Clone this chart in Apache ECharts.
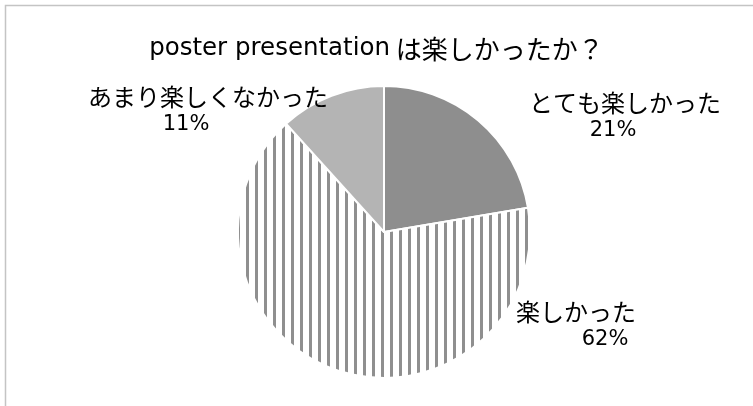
<!DOCTYPE html>
<html>
<head>
<meta charset="utf-8">
<script src="https://cdn.jsdelivr.net/npm/echarts@6/dist/echarts.min.js"></script>
<style>
  html, body { margin: 0; padding: 0; background: #fff; }
  #chart { width: 753px; height: 406px; }
</style>
</head>
<body>
<div id="chart"></div>
<script>
// Survey answers (percent)
const categories = ['とても楽しかった', '楽しかった', 'あまり楽しくなかった'];
const percents = [21, 62, 11];

const titleLatin = 'poster presentation';
const titleJa = ' は楽しかったか？';

// Vertical stripe fill for the middle slice
function stripePattern() {
  const c = document.createElement('canvas');
  c.width = 9; c.height = 9;
  const g = c.getContext('2d');
  g.fillStyle = '#ffffff';
  g.fillRect(0, 0, 9, 9);
  g.fillStyle = '#8f8f8f';
  g.fillRect(3, 0, 3, 9);
  return c;
}

const fills = ['#8e8e8e', { image: stripePattern(), repeat: 'repeat' }, '#b4b4b4'];
// Label anchor points (centre of the first line, pixels) for each answer
const labelSpots = [[625, 103], [576, 312], [208, 97]];
// Horizontal nudge of the percentage line relative to the name line
const pctShift = [-12, 29, -22];

const chart = echarts.init(document.getElementById('chart'), null, { renderer: 'canvas' });
chart.setOption({
  animation: false,
  backgroundColor: '#ffffff',
  title: {
    text: '{a|' + titleLatin + '}{b|' + titleJa + '}',
    left: 'center',
    top: 29,
    textStyle: {
      fontWeight: 'normal',
      rich: {
        a: { fontFamily: 'DejaVu Sans', fontSize: 24.5, fontWeight: 'normal', color: '#000', lineHeight: 30 },
        b: { fontFamily: 'Noto Sans CJK JP', fontSize: 26, fontWeight: 'normal', color: '#000', lineHeight: 30 }
      }
    }
  },
  graphic: [{
    type: 'rect',
    shape: { x: 5.5, y: 5.5, width: 900, height: 600 },
    style: { fill: 'none', stroke: '#c4c4c4', lineWidth: 1.5 },
    silent: true
  }],
  series: [{
    type: 'pie',
    center: [384, 232],
    radius: [0, 146],
    startAngle: 90,
    clockwise: true,
    avoidLabelOverlap: false,
    data: categories.map((name, i) => ({
      name,
      value: percents[i],
      itemStyle: { color: fills[i] },
      label: {
        rich: {
          p: {
            fontFamily: 'DejaVu Sans', fontSize: 21, lineHeight: 28, color: '#000', align: 'center',
            padding: pctShift[i] > 0 ? [0, 0, 0, 2 * pctShift[i]] : [0, -2 * pctShift[i], 0, 0]
          }
        }
      }
    })),
    itemStyle: { borderColor: '#ffffff', borderWidth: 2 },
    label: {
      show: true,
      position: 'outside',
      formatter: '{n|{b}}\n{p|{c}%}',
      align: 'center',
      rich: {
        n: { fontFamily: 'Noto Sans CJK JP', fontSize: 24, lineHeight: 28, color: '#000', align: 'center' },
        p: { fontFamily: 'DejaVu Sans', fontSize: 21, lineHeight: 28, color: '#000', align: 'center' }
      }
    },
    labelLine: { show: false },
    labelLayout: (params) => ({
      x: labelSpots[params.dataIndex][0],
      y: labelSpots[params.dataIndex][1] + 14,
      align: 'center',
      verticalAlign: 'middle'
    }),
    emphasis: { disabled: true }
  }]
});
</script>
</body>
</html>
